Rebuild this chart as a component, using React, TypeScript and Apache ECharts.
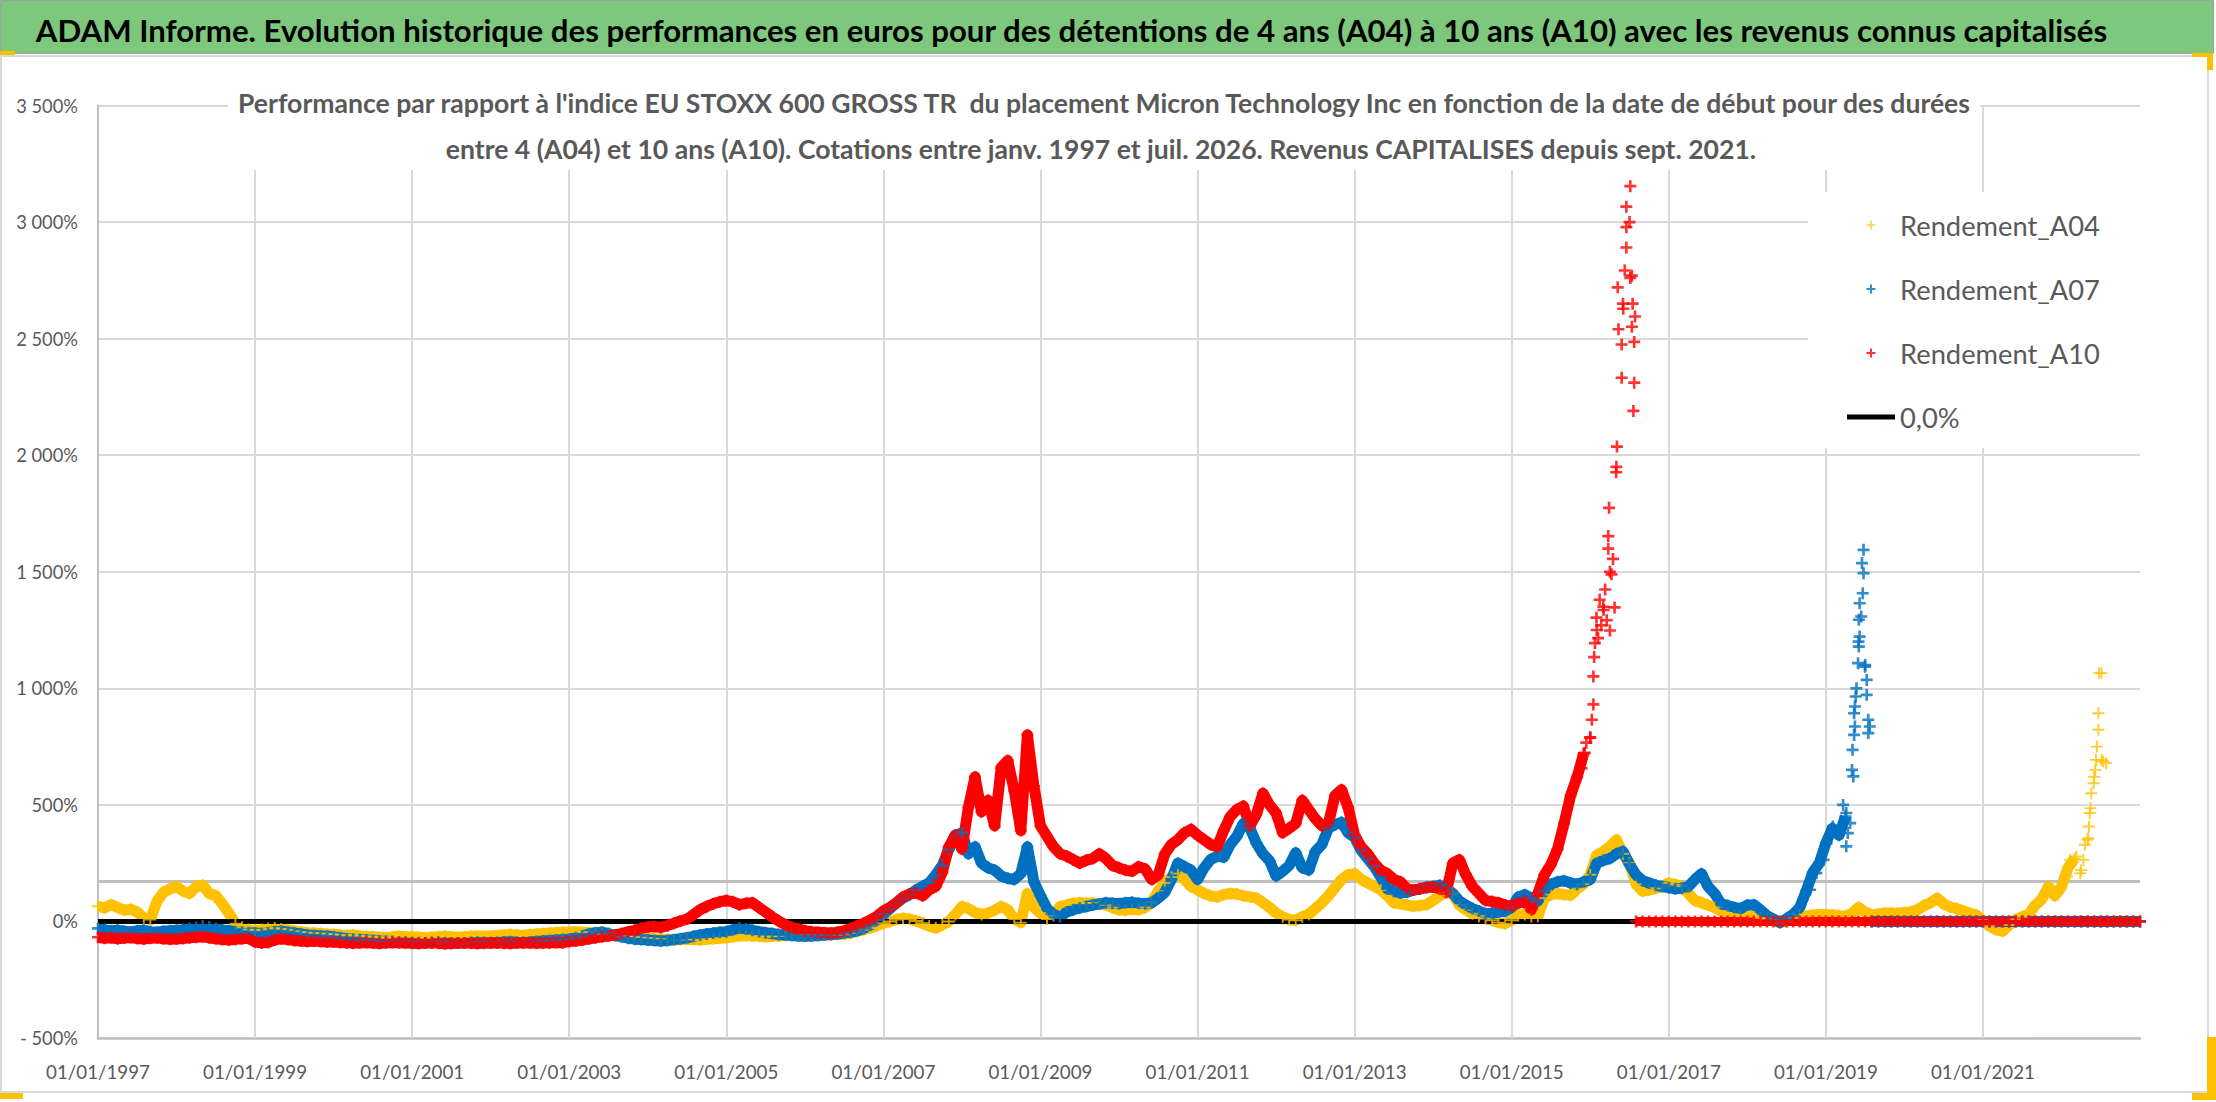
import React, { useEffect, useRef } from "react";
import * as echarts from "echarts";

const TITLE =
  "ADAM Informe. Evolution historique des performances en euros pour des détentions de 4 ans (A04) à 10 ans (A10) avec les revenus connus capitalisés";
const SUBTITLE_1 =
  "Performance par rapport à l'indice EU STOXX 600 GROSS TR  du placement Micron Technology Inc en fonction de la date de début pour des durées";
const SUBTITLE_2 =
  "entre 4 (A04) et 10 ans (A10). Cotations entre janv. 1997 et juil. 2026. Revenus CAPITALISES depuis sept. 2021.";

const SERIES_NAMES = ["Rendement_A04", "Rendement_A07", "Rendement_A10", "0,0%"];
const X_TICK_YEARS = [1997, 1999, 2001, 2003, 2005, 2007, 2009, 2011, 2013, 2015, 2017, 2019, 2021];
const START_YEAR = 1997;
const END_YEAR = 2023;
const Y_MIN = -500;
const Y_MAX = 3500;
const Y_STEP = 500;
const GRAY_LEVEL = 171;

// monthly readings, first value = janv. 1997
const A04_MONTHLY = [
  65, 58, 72, 60, 48, 52, 40, 15, 8, 85, 125, 140,
  150, 130, 120, 150, 155, 120, 110, 75, 35, -10, -25, -35,
  -38, -35, -30, -28, -32, -36, -42, -45, -48, -50, -52, -55,
  -55, -58, -60, -58, -62, -64, -66, -68, -70, -66, -64, -66,
  -66, -68, -70, -68, -66, -64, -66, -68, -66, -64, -62, -64,
  -62, -60, -58, -56, -58, -60, -56, -54, -52, -50, -48, -46,
  -45, -44, -46, -48, -50, -52, -56, -60, -64, -66, -68, -70,
  -72, -74, -76, -78, -80, -78, -76, -78, -80, -76, -74, -72,
  -70, -66, -62, -60, -62, -64, -66, -64, -62, -60, -58, -60,
  -62, -60, -58, -57, -57, -56, -55, -50, -42, -36, -28, -18,
  -8, 0, 8, 14, 10, 2, -8, -20, -28, -15, 0, 30,
  64, 55, 38, 30, 36, 48, 64, 50, 10, -5, 120, 60,
  36, 10, 25, 64, 70, 78, 80, 78, 79, 75, 70, 60,
  50, 48, 52, 50, 60, 80, 130, 165, 190, 205, 180, 150,
  135, 120, 110, 105, 115, 120, 118, 110, 105, 100, 80, 60,
  36, 20, 8, 5, 20, 30, 55, 80, 110, 145, 180, 200,
  205, 180, 165, 150, 135, 110, 80, 75, 70, 65, 68, 72,
  90, 110, 125, 120, 70, 50, 33, 22, 12, 5, -5, -10,
  5, 25, 30, 20, 22, 100, 115, 120, 115, 112, 140, 160,
  200, 285, 300, 320, 350, 290, 250, 160, 130, 135, 142, 150,
  165, 158, 150, 120, 90, 80, 70, 60, 45, 35, 25, 22,
  25, 20, 15, 12, 5, -5, 0, 15, 28, 22, 28, 30,
  30, 28, 25, 22, 35, 60, 40, 28, 32, 36, 36, 35,
  38, 42, 50, 68, 80, 100, 75, 62, 55, 45, 35, 28,
  5, -20, -35, -42, -15, 8, 20, 30, 70, 95, 150, 110,
  150, 230, 270, 220, 350, 620,
];
const A04_ZEROS = [0, 0, 0, 0, 0, 0, 0];
const A04_SPIKE = [
  [2022.07, 193], [2022.11, 264], [2022.19, 279], [2022.24, 207], [2022.28, 264],
  [2022.3, 329], [2022.34, 357], [2022.35, 407], [2022.36, 465], [2022.37, 486],
  [2022.38, 550], [2022.41, 593], [2022.43, 650], [2022.44, 693], [2022.45, 750],
  [2022.47, 822], [2022.47, 893], [2022.48, 1065], [2022.51, 1065], [2022.53, 686],
  [2022.57, 679], [2022.51, 693],
];

const A07_MONTHLY = [
  -30, -36, -40, -38, -42, -45, -40, -38, -44, -46, -42, -40,
  -38, -35, -30, -26, -20, -24, -30, -36, -40, -44, -46, -48,
  -50, -52, -48, -44, -42, -46, -50, -54, -58, -60, -62, -64,
  -66, -70, -74, -76, -78, -80, -82, -84, -85, -86, -88, -88,
  -90, -91, -92, -90, -89, -91, -92, -93, -92, -90, -89, -90,
  -91, -90, -88, -87, -89, -90, -88, -86, -84, -82, -80, -78,
  -76, -70, -62, -54, -48, -46, -52, -60, -66, -72, -76, -78,
  -80, -82, -84, -82, -78, -74, -70, -64, -58, -54, -50, -46,
  -44, -36, -28, -32, -38, -44, -48, -52, -56, -58, -60, -62,
  -64, -62, -60, -58, -56, -54, -50, -46, -40, -30, -15, 5,
  30, 55, 80, 100, 115, 135, 150, 165, 200, 240, 310, 370,
  380, 290, 320, 250, 230, 220, 195, 185, 180, 205, 320, 170,
  110, 55, 30, 20, 40, 50, 58, 64, 70, 75, 80, 78,
  76, 80, 82, 78, 76, 80, 100, 125, 180, 250, 235, 220,
  180, 230, 265, 280, 275, 330, 365, 420, 400, 335, 290, 260,
  195, 215, 240, 295, 230, 220, 300, 330, 400, 415, 425, 380,
  360, 305, 270, 235, 190, 140, 130, 122, 125, 135, 140, 148,
  150, 155, 140, 120, 88, 70, 55, 45, 33, 35, 40, 44,
  60, 105, 115, 100, 88, 130, 160, 170, 175, 165, 160, 170,
  180, 250, 262, 270, 290, 300, 245, 200, 175, 165, 155, 150,
  145, 140, 142, 150, 180, 205, 150, 120, 75, 68, 60, 55,
  70, 72, 50, 25, 10, -5, 12, 30, 60, 130, 210, 250,
  336, 400, 370, 450, 650, 1200, 1100,
];
const A07_ZEROS = [
  0, 0, 0, 0, 0,
  0, 0, 0, 0, 0, 0, 0, 0, 0, 0, 0, 0,
  0, 0, 0, 0, 0, 0, 0, 0, 0, 0, 0, 0,
  0, 0, 0, 0, 0, 0, 0, 0, 0, 0, 0, 0,
  0,
];
const A07_SPIKE = [
  [2018.8, 136], [2018.88, 207], [2018.97, 264], [2019.01, 336], [2019.05, 364],
  [2019.09, 407], [2019.22, 500], [2019.26, 465], [2019.26, 322], [2019.28, 379],
  [2019.31, 422], [2019.34, 736], [2019.35, 622], [2019.36, 800], [2019.37, 836],
  [2019.36, 893], [2019.37, 922], [2019.38, 965], [2019.39, 1000], [2019.41, 1108],
  [2019.42, 1179], [2019.43, 1222], [2019.42, 1294], [2019.45, 1308], [2019.43, 1365],
  [2019.47, 1408], [2019.48, 1494], [2019.46, 1537], [2019.48, 1594], [2019.5, 1093],
  [2019.52, 1036], [2019.52, 972], [2019.54, 865], [2019.56, 836], [2019.54, 808],
];

const A10_MONTHLY = [
  -68, -72, -70, -74, -71, -69, -73, -75, -72, -70, -74, -76,
  -75, -73, -70, -68, -66, -70, -74, -78, -80, -77, -74, -72,
  -88, -92, -90, -80, -74, -78, -82, -84, -86, -84, -86, -88,
  -88, -90, -92, -94, -92, -90, -93, -95, -92, -90, -91, -93,
  -94, -95, -93, -92, -94, -96, -95, -93, -92, -94, -95, -94,
  -93, -92, -94, -95, -93, -91, -92, -94, -93, -92, -90, -91,
  -86, -84, -80, -75, -70, -66, -62, -58, -52, -45, -38, -30,
  -24, -22, -26, -18, -8, 2, 10, 30, 50, 64, 76, 84,
  90, 84, 72, 78, 80, 60, 40, 20, 2, -14, -26, -32,
  -40, -44, -46, -48, -50, -46, -40, -30, -20, -8, 6, 22,
  45, 60, 80, 105, 118, 122, 110, 135, 150, 210, 320, 370,
  310, 490, 620, 470, 520, 410, 660, 690, 560, 390, 800, 580,
  410, 365, 320, 290, 280, 265, 250, 262, 270, 290, 270, 240,
  230, 220, 215, 235, 225, 180, 200, 290, 330, 350, 380, 395,
  370, 350, 330, 320, 390, 450, 480, 495, 410, 460, 550, 500,
  465, 380, 400, 420, 520, 480, 440, 410, 420, 540, 565, 490,
  370, 320, 290, 250, 220, 205, 180, 170, 140, 135, 140, 145,
  148, 140, 125, 250, 265, 200, 150, 120, 90, 85, 80, 70,
  65, 78, 88, 50, 120, 200, 245, 310, 420, 540, 620, 720,
  790, 1250, 1350, 1500, 1950, 2650, 3000,
];
const A10_ZEROS = [
  0, 0, 0, 0, 0,
  0, 0, 0, 0, 0, 0, 0, 0, 0, 0, 0, 0,
  0, 0, 0, 0, 0, 0, 0, 0, 0, 0, 0, 0,
  0, 0, 0, 0, 0, 0, 0, 0, 0, 0, 0, 0,
  0, 0, 0, 0, 0, 0, 0, 0, 0, 0, 0, 0,
  0, 0, 0, 0, 0, 0, 0, 0, 0, 0, 0, 0,
  0, 0, 0, 0, 0, 0, 0, 0, 0, 0, 0, 0,
  0,
];
const A10_SPIKE = [
  [2015.89, 657], [2015.93, 723], [2015.95, 767], [2016.0, 788], [2016.02, 865],
  [2016.04, 931], [2016.04, 1051], [2016.05, 1134], [2016.06, 1194], [2016.08, 1303],
  [2016.1, 1215], [2016.12, 1380], [2016.14, 1270], [2016.17, 1336], [2016.19, 1424],
  [2016.21, 1292], [2016.23, 1599], [2016.25, 1248], [2016.27, 1489], [2016.29, 1555],
  [2016.31, 1347], [2016.23, 1653], [2016.24, 1774], [2016.33, 1927], [2016.34, 2037],
  [2016.35, 2720], [2016.36, 2540], [2016.4, 2475], [2016.4, 2332], [2016.42, 2628],
  [2016.44, 2792], [2016.46, 2891], [2016.46, 2978], [2016.46, 3066], [2016.51, 3154],
  [2016.53, 2770], [2016.54, 2650], [2016.53, 2551], [2016.56, 2486], [2016.56, 2311],
  [2016.55, 2190], [2016.51, 2760], [2016.57, 2595],
];
const ZERO_LINE = [0, 0];

// number of monthly readings drawn as a dense band before each final spike
const A04_BAND_MONTHS = 303;
const A07_BAND_MONTHS = 268;
const A10_BAND_MONTHS = 228;

const YELLOW = "#FFC000";
const BLUE = "#0070C0";
const RED = "#FF0000";
const GREY_TEXT = "#595959";
const GRID_GREY = "#d9d9d9";
const AXIS_GREY = "#bfbfbf";
const FONT = "Lato";

const PLUS_THIN = "path://M4.2,0H5.8V4.2H10V5.8H5.8V10H4.2V5.8H0V4.2H4.2Z";
const PLUS_BOLD = "path://M3.9,0H6.1V3.9H10V6.1H6.1V10H3.9V6.1H0V3.9H3.9Z";
const BAR_ICON = "path://M0,0H48V5H0Z";

const monthly = (values: number[], offset = 0) =>
  values.map((v, i) => [START_YEAR + (i + offset) / 12, v]);

const fitSize = (text: string, weight: string, width: number) => {
  const ctx = document.createElement("canvas").getContext("2d");
  if (!ctx) return 20;
  ctx.font = `${weight} 100px ${FONT}`;
  return (100 * width) / ctx.measureText(text).width;
};

const pct = (v: number) => {
  if (v === 0) return "0%";
  const s = String(Math.abs(v)).replace(/\B(?=(\d{3})+(?!\d))/g, " ");
  return (v < 0 ? "- " : "") + s + "%";
};

const App: React.FC = () => {
  const chartRef = useRef<HTMLDivElement>(null);

  useEffect(() => {
    const chart = echarts.init(chartRef.current as HTMLDivElement, undefined, { renderer: "svg" });

    const titleSize = fitSize(TITLE, "bold", 2073);
    const subSize = fitSize(SUBTITLE_1, "bold", 1736);
    const legendSize = fitSize("Rendement_A04", "normal", 200);
    const yLabelSize = fitSize("- 500%", "normal", 58);
    const xLabelSize = fitSize("01/01/1997", "normal", 104);

    const scatter = (name: string, color: string, symbol: string, data: number[][]) => ({
      name,
      type: "scatter",
      data,
      symbol,
      symbolSize: 12,
      itemStyle: { color },
      silent: true,
      z: 2,
    });
    const band = (name: string, color: string, data: number[][], extra = {}) => ({
      name,
      type: "line",
      data,
      symbol: "none",
      lineStyle: { color, width: 11, join: "round" },
      itemStyle: { color },
      silent: true,
      z: 2,
      ...extra,
    });

    const option: echarts.EChartsOption = {
      animation: false,
      backgroundColor: "#ffffff",
      grid: { left: 98, right: 76, top: 105.5, bottom: 64 },
      xAxis: {
        type: "value",
        min: START_YEAR,
        max: END_YEAR,
        interval: 2,
        axisLine: { onZero: false, lineStyle: { color: AXIS_GREY, width: 2.5 } },
        axisTick: { show: false },
        splitLine: { show: false },
        axisLabel: {
          formatter: (v: number) => `01/01/${v}`,
          showMaxLabel: false,
          margin: 24,
          color: GREY_TEXT,
          fontFamily: FONT,
          fontSize: xLabelSize,
        },
      },
      yAxis: {
        type: "value",
        min: Y_MIN,
        max: Y_MAX,
        interval: Y_STEP,
        axisLine: { show: true, lineStyle: { color: AXIS_GREY, width: 2 } },
        axisTick: { show: false },
        splitLine: { lineStyle: { color: GRID_GREY, width: 2 } },
        axisLabel: {
          formatter: (v: number) => pct(v),
          margin: 20,
          color: GREY_TEXT,
          fontFamily: FONT,
          fontSize: yLabelSize,
        },
      },
      legend: {
        data: [
          SERIES_NAMES[0],
          SERIES_NAMES[1],
          SERIES_NAMES[2],
          { name: SERIES_NAMES[3], icon: BAR_ICON, itemStyle: { color: "#000000" } },
        ],
        orient: "vertical",
        left: 1808,
        top: 192,
        padding: [18, 50, 16, 39],
        itemWidth: 48,
        itemHeight: 9,
        itemGap: 34,
        backgroundColor: "#ffffff",
        selectedMode: false,
        textStyle: { color: GREY_TEXT, fontFamily: FONT, fontSize: legendSize, lineHeight: 30 },
      },
      series: [
        band("A04_bande", YELLOW, monthly(A04_MONTHLY.slice(0, A04_BAND_MONTHS)), {
          markLine: {
            silent: true,
            symbol: "none",
            z: 1,
            label: { show: false },
            data: [
              ...X_TICK_YEARS.slice(1).map((x) => ({
                xAxis: x,
                lineStyle: { color: GRID_GREY, width: 2, type: "solid" },
              })),
              { yAxis: GRAY_LEVEL, lineStyle: { color: AXIS_GREY, width: 3, type: "solid" } },
            ],
          },
        }),
        band("A04_zero", YELLOW, monthly(A04_ZEROS, A04_MONTHLY.length)),
        scatter("Rendement_A04", YELLOW, PLUS_THIN, [
          ...monthly(A04_MONTHLY),
          ...monthly(A04_ZEROS, A04_MONTHLY.length),
          ...A04_SPIKE,
        ]),
        band("A07_bande", BLUE, monthly(A07_MONTHLY.slice(0, A07_BAND_MONTHS))),
        band("A07_zero", BLUE, monthly(A07_ZEROS, A07_MONTHLY.length)),
        scatter("Rendement_A07", BLUE, PLUS_BOLD, [
          ...monthly(A07_MONTHLY),
          ...monthly(A07_ZEROS, A07_MONTHLY.length),
          ...A07_SPIKE,
        ]),
        {
          name: "0,0%",
          type: "line",
          data: [
            [START_YEAR, ZERO_LINE[0]],
            [END_YEAR, ZERO_LINE[1]],
          ],
          symbol: "none",
          lineStyle: { color: "#000000", width: 5 },
          itemStyle: { color: "#000000" },
          silent: true,
          z: 2,
        },
        band("A10_bande", RED, monthly(A10_MONTHLY.slice(0, A10_BAND_MONTHS))),
        band("A10_zero", RED, monthly(A10_ZEROS, A10_MONTHLY.length), {
          lineStyle: { color: RED, width: 9 },
        }),
        scatter("Rendement_A10", RED, PLUS_BOLD, [
          ...monthly(A10_MONTHLY),
          ...monthly(A10_ZEROS, A10_MONTHLY.length),
          ...A10_SPIKE,
        ]),
      ] as any,
      graphic: [
        {
          type: "rect",
          z: 10,
          shape: { x: 0.5, y: 0.5, width: 2213, height: 53 },
          style: { fill: "#7DC87D", stroke: "#a0a0a0", lineWidth: 1 },
        },
        {
          type: "text",
          z: 11,
          x: 1071.5,
          y: 30,
          style: {
            text: TITLE,
            fontFamily: FONT,
            fontWeight: "bold",
            fontSize: titleSize,
            fill: "#000000",
            textAlign: "center",
            textVerticalAlign: "middle",
          },
        },
        {
          type: "rect",
          z: 9,
          shape: { x: 1, y: 56, width: 2207, height: 1036 },
          style: { fill: "none", stroke: GRID_GREY, lineWidth: 2 },
        },
        {
          type: "rect",
          z: 10,
          shape: { x: 228, y: 72, width: 1752, height: 98 },
          style: { fill: "#ffffff" },
        },
        {
          type: "text",
          z: 11,
          x: 1104,
          y: 103,
          style: {
            text: SUBTITLE_1,
            fontFamily: FONT,
            fontWeight: "bold",
            fontSize: subSize,
            fill: GREY_TEXT,
            textAlign: "center",
            textVerticalAlign: "middle",
          },
        },
        {
          type: "text",
          z: 11,
          x: 1101,
          y: 149,
          style: {
            text: SUBTITLE_2,
            fontFamily: FONT,
            fontWeight: "bold",
            fontSize: subSize,
            fill: GREY_TEXT,
            textAlign: "center",
            textVerticalAlign: "middle",
          },
        },
        { type: "rect", z: 12, shape: { x: 0, y: 51, width: 15, height: 4 }, style: { fill: YELLOW } },
        { type: "rect", z: 12, shape: { x: 2192, y: 53, width: 21, height: 4 }, style: { fill: YELLOW } },
        { type: "rect", z: 12, shape: { x: 2207, y: 53, width: 6, height: 17 }, style: { fill: YELLOW } },
        { type: "rect", z: 12, shape: { x: 0, y: 1093, width: 23, height: 6 }, style: { fill: YELLOW } },
        { type: "rect", z: 12, shape: { x: 2207, y: 1037, width: 9, height: 63 }, style: { fill: YELLOW } },
        { type: "rect", z: 12, shape: { x: 2192, y: 1093, width: 24, height: 7 }, style: { fill: YELLOW } },
      ],
    };

    chart.setOption(option);
    return () => {
      chart.dispose();
    };
  }, []);

  return (
    <div
      ref={chartRef}
      style={{ position: "fixed", left: 0, top: 0, width: "2216px", height: "1102px", background: "#fff" }}
    />
  );
};

export default App;
